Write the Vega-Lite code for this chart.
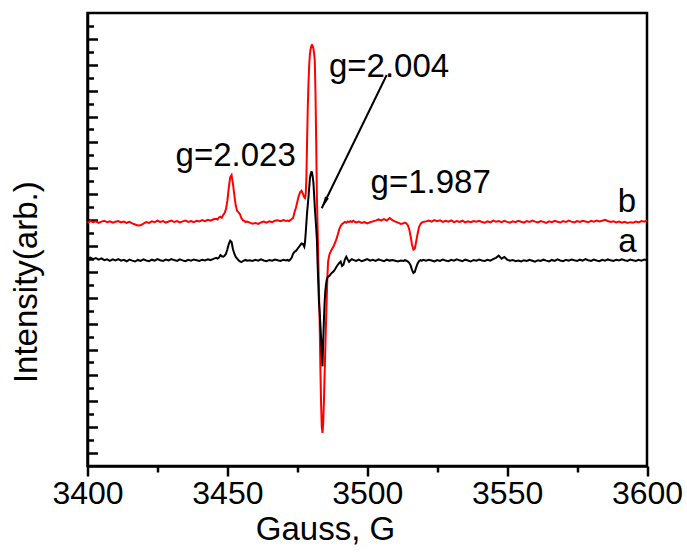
{
  "$schema": "https://vega.github.io/schema/vega-lite/v6.json",
  "width": 559.5,
  "height": 453,
  "autosize": {"type": "none"},
  "padding": {"left": 87.5, "top": 13, "right": 40, "bottom": 87},
  "background": "white",
  "config": {
    "view": {"stroke": "black", "strokeWidth": 2.5},
    "axis": {
      "grid": false,
      "domainColor": "black",
      "domainWidth": 2.5,
      "tickColor": "black",
      "tickWidth": 2.5,
      "labelFont": "Liberation Sans",
      "labelColor": "black",
      "titleFont": "Liberation Sans",
      "titleColor": "black",
      "titleFontWeight": "normal"
    },
    "text": {"font": "Liberation Sans"}
  },
  "datasets": {
    "esr": [
      {"G":3400,"a":16.02,"b":18.80},{"G":3401,"a":16.10,"b":18.92},{"G":3402,"a":15.98,"b":18.83},{"G":3403,"a":16.06,"b":18.90},
      {"G":3404,"a":15.94,"b":18.78},{"G":3405,"a":16.04,"b":18.88},{"G":3406,"a":15.90,"b":18.95},{"G":3407,"a":15.97,"b":18.84},
      {"G":3408,"a":15.85,"b":18.91},{"G":3409,"a":15.96,"b":18.80},{"G":3410,"a":15.88,"b":18.87},{"G":3411,"a":15.99,"b":18.93},
      {"G":3412,"a":15.86,"b":18.82},{"G":3413,"a":15.93,"b":18.89},{"G":3414,"a":15.82,"b":18.79},{"G":3415,"a":15.95,"b":18.86},
      {"G":3416,"a":15.87,"b":18.74},{"G":3417,"a":15.80,"b":18.66},{"G":3418,"a":15.92,"b":18.58},{"G":3419,"a":15.85,"b":18.60},
      {"G":3420,"a":15.96,"b":18.72},{"G":3421,"a":15.88,"b":18.84},{"G":3422,"a":15.83,"b":18.78},{"G":3423,"a":15.94,"b":18.90},
      {"G":3424,"a":15.86,"b":18.83},{"G":3425,"a":15.98,"b":18.95},{"G":3426,"a":15.90,"b":18.86},{"G":3427,"a":15.84,"b":18.92},
      {"G":3428,"a":15.95,"b":18.81},{"G":3429,"a":15.88,"b":18.89},{"G":3430,"a":15.99,"b":18.96},{"G":3431,"a":15.91,"b":18.85},
      {"G":3432,"a":15.85,"b":18.93},{"G":3433,"a":15.97,"b":18.82},{"G":3434,"a":15.89,"b":18.90},{"G":3435,"a":15.82,"b":18.97},
      {"G":3436,"a":15.93,"b":18.86},{"G":3437,"a":15.87,"b":18.92},{"G":3438,"a":15.96,"b":18.84},{"G":3439,"a":15.90,"b":18.95},
      {"G":3440,"a":15.84,"b":18.89},{"G":3441,"a":15.94,"b":19.00},{"G":3442,"a":15.88,"b":18.92},{"G":3443,"a":15.97,"b":19.02},
      {"G":3444,"a":15.91,"b":18.95},{"G":3445,"a":16.00,"b":19.06},{"G":3446,"a":16.08,"b":19.10},
      {"G":3446.5,"a":16.02,"b":19.05},{"G":3447,"a":16.10,"b":19.20},{"G":3447.5,"a":16.30,"b":19.26},{"G":3448,"a":16.20,"b":19.18},
      {"G":3448.5,"a":16.17,"b":19.39},{"G":3449,"a":16.25,"b":19.55},{"G":3449.5,"a":16.40,"b":19.85},{"G":3450,"a":16.75,"b":20.50},
      {"G":3450.5,"a":17.15,"b":21.50},{"G":3451,"a":17.41,"b":22.30},{"G":3451.5,"a":17.30,"b":22.48},{"G":3452,"a":16.75,"b":21.80},
      {"G":3452.5,"a":16.40,"b":20.90},{"G":3453,"a":16.15,"b":20.10},{"G":3453.5,"a":16.02,"b":19.70},{"G":3454,"a":15.90,"b":19.60},
      {"G":3454.5,"a":15.80,"b":19.45},{"G":3455,"a":15.75,"b":19.15},{"G":3455.5,"a":15.82,"b":19.00},{"G":3456,"a":15.88,"b":18.95},
      {"G":3456.5,"a":15.92,"b":18.85},{"G":3457,"a":15.86,"b":18.88},
      {"G":3458,"a":15.90,"b":18.80},{"G":3459,"a":15.84,"b":18.72},{"G":3460,"a":15.93,"b":18.78},{"G":3461,"a":15.86,"b":18.70},
      {"G":3462,"a":15.96,"b":18.82},{"G":3463,"a":15.88,"b":18.88},{"G":3464,"a":15.82,"b":18.80},{"G":3465,"a":15.92,"b":18.90},
      {"G":3466,"a":15.86,"b":18.84},{"G":3467,"a":15.95,"b":18.95},{"G":3468,"a":15.89,"b":18.99},{"G":3469,"a":15.84,"b":18.92},
      {"G":3470,"a":15.94,"b":19.00},{"G":3471,"a":15.88,"b":18.94},
      {"G":3471.5,"a":15.92,"b":18.96},{"G":3472,"a":15.86,"b":18.92},{"G":3472.5,"a":15.95,"b":19.00},{"G":3473,"a":16.10,"b":19.08},
      {"G":3473.5,"a":16.40,"b":19.16},{"G":3474,"a":16.55,"b":19.60},{"G":3474.5,"a":16.62,"b":19.95},{"G":3475,"a":16.75,"b":20.40},
      {"G":3475.5,"a":16.90,"b":20.85},{"G":3476,"a":17.05,"b":21.15},{"G":3476.5,"a":17.20,"b":21.27},{"G":3477,"a":17.15,"b":21.05},
      {"G":3477.5,"a":16.94,"b":20.75},{"G":3477.75,"a":17.30,"b":20.70},{"G":3478,"a":17.98,"b":21.00},{"G":3478.25,"a":18.80,"b":22.30},
      {"G":3478.5,"a":19.60,"b":25.20},{"G":3478.75,"a":20.20,"b":27.80},{"G":3479,"a":20.80,"b":29.60},{"G":3479.25,"a":21.50,"b":31.00},
      {"G":3479.5,"a":22.20,"b":31.80},{"G":3479.75,"a":22.55,"b":32.20},{"G":3480,"a":22.72,"b":32.45},{"G":3480.25,"a":22.70,"b":32.53},
      {"G":3480.5,"a":22.35,"b":32.45},{"G":3480.75,"a":21.90,"b":32.25},{"G":3481,"a":21.00,"b":31.90},{"G":3481.25,"a":20.00,"b":31.30},
      {"G":3481.5,"a":19.20,"b":28.80},{"G":3481.75,"a":18.40,"b":25.00},{"G":3482,"a":17.50,"b":20.80},{"G":3482.25,"a":15.60,"b":18.50},
      {"G":3482.5,"a":14.10,"b":16.00},{"G":3482.75,"a":12.60,"b":13.50},{"G":3483,"a":11.90,"b":11.00},{"G":3483.25,"a":10.90,"b":7.50},
      {"G":3483.5,"a":9.90,"b":4.80},{"G":3483.75,"a":8.60,"b":3.00},{"G":3484,"a":7.70,"b":2.55},{"G":3484.25,"a":9.60,"b":3.30},
      {"G":3484.5,"a":11.20,"b":4.90},{"G":3484.75,"a":12.60,"b":7.00},{"G":3485,"a":13.50,"b":9.00},{"G":3485.25,"a":14.00,"b":11.00},
      {"G":3485.5,"a":14.37,"b":12.80},{"G":3485.75,"a":14.55,"b":14.60},{"G":3486,"a":14.62,"b":15.80},{"G":3486.5,"a":14.70,"b":16.35},
      {"G":3487,"a":14.85,"b":16.60},{"G":3487.5,"a":14.95,"b":16.80},{"G":3488,"a":15.05,"b":17.00},{"G":3488.5,"a":15.20,"b":17.25},
      {"G":3489,"a":15.40,"b":17.55},{"G":3489.5,"a":15.55,"b":17.90},{"G":3490,"a":15.70,"b":18.30},{"G":3490.5,"a":15.80,"b":18.55},
      {"G":3491,"a":15.45,"b":18.70},{"G":3491.5,"a":15.55,"b":18.78},{"G":3492,"a":15.95,"b":18.86},{"G":3492.5,"a":16.17,"b":18.80},
      {"G":3493,"a":15.95,"b":18.90},{"G":3493.5,"a":15.78,"b":18.84},{"G":3494,"a":15.90,"b":18.92},{"G":3494.5,"a":15.98,"b":18.85},
      {"G":3495,"a":15.92,"b":18.95},
      {"G":3496,"a":15.84,"b":18.80},{"G":3497,"a":15.95,"b":18.88},{"G":3498,"a":15.82,"b":18.78},{"G":3499,"a":15.90,"b":18.85},
      {"G":3500,"a":15.98,"b":18.75},{"G":3501,"a":15.87,"b":18.83},{"G":3502,"a":15.93,"b":18.90},{"G":3503,"a":15.85,"b":18.96},
      {"G":3504,"a":15.96,"b":19.05},{"G":3505,"a":15.89,"b":18.98},{"G":3506,"a":15.83,"b":19.08},{"G":3507,"a":15.94,"b":18.96},
      {"G":3508,"a":15.87,"b":19.16},{"G":3509,"a":15.92,"b":19.00},{"G":3510,"a":15.86,"b":18.88},{"G":3511,"a":15.80,"b":18.80},
      {"G":3512,"a":15.88,"b":18.70},{"G":3513,"a":15.84,"b":18.76},
      {"G":3513.5,"a":15.90,"b":18.80},{"G":3514,"a":15.86,"b":18.74},{"G":3514.5,"a":15.80,"b":18.60},{"G":3515,"a":15.70,"b":18.30},
      {"G":3515.5,"a":15.50,"b":17.75},{"G":3516,"a":15.15,"b":17.10},{"G":3516.5,"a":14.92,"b":16.72},{"G":3517,"a":15.00,"b":16.80},
      {"G":3517.5,"a":15.35,"b":17.35},{"G":3518,"a":15.65,"b":17.95},{"G":3518.5,"a":15.82,"b":18.45},{"G":3519,"a":15.90,"b":18.70},
      {"G":3519.5,"a":15.86,"b":18.80},{"G":3520,"a":15.93,"b":18.86},
      {"G":3521,"a":15.86,"b":18.90},{"G":3522,"a":15.94,"b":18.96},{"G":3523,"a":15.88,"b":18.88},{"G":3524,"a":15.80,"b":19.00},
      {"G":3525,"a":15.91,"b":18.92},{"G":3526,"a":15.85,"b":18.98},{"G":3527,"a":15.95,"b":18.86},{"G":3528,"a":15.87,"b":18.94},
      {"G":3529,"a":15.82,"b":18.88},{"G":3530,"a":15.93,"b":18.97},{"G":3531,"a":15.86,"b":18.84},{"G":3532,"a":15.97,"b":18.92},
      {"G":3533,"a":15.89,"b":18.86},{"G":3534,"a":15.83,"b":18.95},{"G":3535,"a":15.94,"b":18.82},{"G":3536,"a":15.88,"b":18.90},
      {"G":3537,"a":15.80,"b":18.84},{"G":3538,"a":15.92,"b":18.93},{"G":3539,"a":15.86,"b":18.87},{"G":3540,"a":15.95,"b":18.95},
      {"G":3541,"a":15.88,"b":18.85},{"G":3542,"a":15.84,"b":18.80},{"G":3543,"a":15.93,"b":18.90},{"G":3544,"a":15.87,"b":18.83},
      {"G":3545,"a":15.98,"b":18.96},{"G":3546,"a":16.08,"b":18.88},{"G":3547,"a":16.25,"b":18.92},{"G":3548,"a":16.02,"b":18.84},
      {"G":3549,"a":16.15,"b":18.94},{"G":3550,"a":15.95,"b":18.86},{"G":3551,"a":15.86,"b":18.80},{"G":3552,"a":15.92,"b":18.91},
      {"G":3553,"a":15.82,"b":18.84},{"G":3554,"a":15.88,"b":18.95},{"G":3555,"a":15.80,"b":18.87},{"G":3556,"a":15.90,"b":18.80},
      {"G":3557,"a":15.84,"b":18.92},{"G":3558,"a":15.93,"b":18.85},{"G":3559,"a":15.86,"b":18.96},{"G":3560,"a":15.79,"b":18.88},
      {"G":3561,"a":15.90,"b":18.82},{"G":3562,"a":15.84,"b":18.93},{"G":3563,"a":15.94,"b":18.86},{"G":3564,"a":15.87,"b":18.78},
      {"G":3565,"a":15.81,"b":18.90},{"G":3566,"a":15.92,"b":18.84},{"G":3567,"a":15.85,"b":18.94},{"G":3568,"a":15.96,"b":18.87},
      {"G":3569,"a":15.88,"b":18.81},{"G":3570,"a":15.82,"b":18.92},{"G":3571,"a":15.93,"b":18.85},{"G":3572,"a":15.86,"b":18.96},
      {"G":3573,"a":15.95,"b":18.88},{"G":3574,"a":15.89,"b":18.82},{"G":3575,"a":15.84,"b":18.93},{"G":3576,"a":15.94,"b":18.86},
      {"G":3577,"a":15.87,"b":18.95},{"G":3578,"a":15.98,"b":18.89},{"G":3579,"a":15.90,"b":18.83},{"G":3580,"a":15.85,"b":18.94},
      {"G":3581,"a":15.95,"b":18.87},{"G":3582,"a":15.88,"b":18.97},{"G":3583,"a":15.82,"b":18.90},{"G":3584,"a":15.93,"b":18.95},
      {"G":3585,"a":15.87,"b":19.02},{"G":3586,"a":15.96,"b":18.93},{"G":3587,"a":15.89,"b":18.85},{"G":3588,"a":15.84,"b":18.90},
      {"G":3589,"a":15.94,"b":18.82},{"G":3590,"a":15.88,"b":18.88},{"G":3591,"a":15.97,"b":18.80},{"G":3592,"a":15.90,"b":18.86},
      {"G":3593,"a":15.85,"b":18.78},{"G":3594,"a":15.95,"b":18.84},{"G":3595,"a":15.89,"b":18.80},{"G":3596,"a":15.84,"b":18.88},
      {"G":3597,"a":15.93,"b":18.82},{"G":3598,"a":15.87,"b":18.92},{"G":3599,"a":15.95,"b":18.88},{"G":3600,"a":15.90,"b":18.98}
    ],
    "notes": [
      {"G": 3431.5, "v": 23.18, "t": "g=2.023"},
      {"G": 3486.3, "v": 30.08, "t": "g=2.004"},
      {"G": 3501.2, "v": 21.07, "t": "g=1.987"},
      {"G": 3589.5, "v": 19.65, "t": "b"},
      {"G": 3589.7, "v": 16.56, "t": "a"}
    ],
    "arrow": [
      {"G": 3506.95, "v": 30.21, "G2": 3483.72, "v2": 19.91}
    ]
  },
  "layer": [
    {
      "data": {"name": "esr"},
      "mark": {"type": "line", "color": "#ff0000", "strokeWidth": 2},
      "encoding": {
        "x": {
          "field": "G", "type": "quantitative",
          "scale": {"domain": [3400, 3600], "nice": false, "zero": false},
          "axis": {
            "orient": "bottom",
            "values": [3400, 3450, 3500, 3550, 3600],
            "format": "d",
            "tickSize": 10,
            "labelFontSize": 32,
            "labelPadding": 2,
            "labelFlush": false,
            "labelOverlap": false,
            "title": "Gauss, G",
            "titleFontSize": 33,
            "titlePadding": 4,
            "titleX": 237.5,
            "titleAlign": "center"
          }
        },
        "y": {
          "field": "b", "type": "quantitative",
          "scale": {"domain": [0, 35], "nice": false, "zero": false},
          "axis": {
            "orient": "left",
            "values": [1, 3, 5, 7, 9, 11, 13, 15, 17, 19, 21, 23, 25, 27, 29, 31, 33],
            "tickSize": -10,
            "labels": false,
            "title": "Intensity(arb.)",
            "titleFontSize": 33,
            "titlePadding": 43,
            "titleY": 268.7,
            "titleAlign": "center"
          }
        }
      }
    },
    {
      "data": {"name": "esr"},
      "mark": {"type": "line", "color": "#000000", "strokeWidth": 2},
      "encoding": {
        "x": {"field": "G", "type": "quantitative", "axis": null},
        "y": {"field": "a", "type": "quantitative", "axis": null}
      }
    },
    {
      "data": {"name": "notes"},
      "mark": {"type": "text", "align": "left", "baseline": "alphabetic", "fontSize": 33, "color": "black"},
      "encoding": {
        "x": {
          "field": "G", "type": "quantitative",
          "axis": {
            "orient": "bottom",
            "values": [3425, 3475, 3525, 3575],
            "tickSize": 6,
            "labels": false,
            "domain": false,
            "title": null
          }
        },
        "y": {
          "field": "v", "type": "quantitative",
          "axis": {
            "orient": "left",
            "values": [2, 4, 6, 8, 10, 12, 14, 16, 18, 20, 22, 24, 26, 28, 30, 32, 34],
            "tickSize": -6,
            "labels": false,
            "domain": false,
            "title": null
          }
        },
        "text": {"field": "t"}
      }
    },
    {
      "data": {"name": "arrow"},
      "mark": {"type": "rule", "color": "black", "strokeWidth": 2},
      "encoding": {
        "x": {"field": "G", "type": "quantitative", "axis": null},
        "y": {"field": "v", "type": "quantitative", "axis": null},
        "x2": {"field": "G2"},
        "y2": {"field": "v2"}
      }
    },
    {
      "data": {"name": "arrow"},
      "mark": {
        "type": "point",
        "shape": "M0,0 L0.35,2 L-0.35,2 Z",
        "filled": true,
        "opacity": 1,
        "color": "black",
        "strokeWidth": 0,
        "size": 144,
        "angle": 206
      },
      "encoding": {
        "x": {"field": "G2", "type": "quantitative", "axis": null},
        "y": {"field": "v2", "type": "quantitative", "axis": null}
      }
    }
  ],
  "resolve": {"axis": {"x": "independent", "y": "independent"}}
}
